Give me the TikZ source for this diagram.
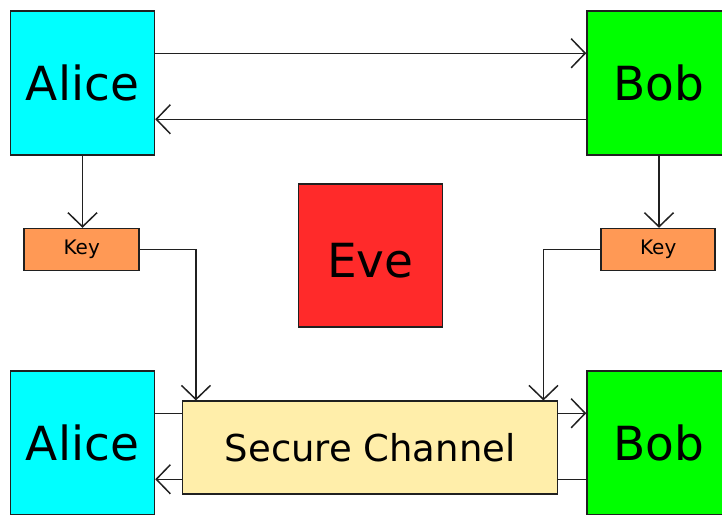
\documentclass[tikz,border=0pt]{standalone}
\usepackage{fontspec}
\setmainfont{DejaVu Sans}
\usetikzlibrary{arrows.meta,calc}

\definecolor{alicecol}{HTML}{00FFFF}
\definecolor{bobcol}{HTML}{00FF00}
\definecolor{evecol}{HTML}{FF2A2A}
\definecolor{keycol}{HTML}{FF9955}
\definecolor{chancol}{HTML}{FFEEAA}
\definecolor{linecol}{HTML}{202020}

\tikzset{
  party/.style={draw=linecol, line width=1.5pt, inner sep=0pt,
    minimum width=144pt, minimum height=144pt,
    font=\fontsize{47}{56}\selectfont},
  keybox/.style={draw=linecol, line width=1.5pt, fill=keycol, inner sep=0pt,
    minimum width=115pt, minimum height=42pt,
    font=\fontsize{20}{24}\selectfont},
  chanbox/.style={draw=linecol, line width=1.5pt, fill=chancol, inner sep=0pt,
    minimum width=375pt, minimum height=93pt,
    font=\fontsize{37}{44}\selectfont},
  wire/.style={draw=linecol, line width=1.5pt},
  arr/.style={wire, -{Straight Barb[length=14pt,width=29pt]}}
}

\begin{document}
\begin{tikzpicture}[x=1pt,y=-1pt]
  \useasboundingbox (0,0) rectangle (722,514);
  \clip (0,0) rectangle (722,514);

  % the two parties, top row
  \node[party, fill=alicecol] (alice1) at (82.5,83) {Alice};
  \node[party, fill=bobcol]   (bob1)   at (659,83)  {Bob};

  % the eavesdropper (label sits a little below the middle)
  \node[party, fill=evecol, minimum height=143pt,
        text height=44pt, text depth=0pt] (eve) at (370.5,255.7) {Eve};

  % keys
  \node[keybox] (keyL) at (81.7,249.5) {Key};
  \node[keybox, minimum width=114pt] (keyR) at (658.2,249.5) {Key};

  % the two parties, bottom row, with the channel between them
  \node[party, fill=alicecol] (alice2) at (82.5,443) {Alice};
  \node[party, fill=bobcol]   (bob2)   at (659,443)  {Bob};
  \node[chanbox] (sc) at (370.2,447.7) {Secure Channel};

  % direct exchange
  \draw[arr] ($(alice1.north east)+(0,43)$) -- ($(bob1.north west)+(0,43)$);
  \draw[arr] ($(bob1.north west)+(0,109)$) -- ($(alice1.north east)+(0,109)$);

  % key generation
  \draw[arr] (alice1.south) -- (alice1.south |- keyL.north);
  \draw[arr] (bob1.south) -- (bob1.south |- keyR.north);

  % keys into the channel
  \draw[arr] (keyL.east) -| ($(sc.north west)+(14,0)$);
  \draw[arr] (keyR.west) -| ($(sc.north east)+(-15,0)$);

  % exchange through the channel
  \draw[wire] ($(alice2.north east)+(0,43)$) -- ($(sc.west |- alice2.north)+(0,43)$);
  \draw[arr]  ($(sc.east |- bob2.north)+(0,43)$) -- ($(bob2.north west)+(0,43)$);
  \draw[wire] ($(bob2.north west)+(0,109)$) -- ($(sc.east |- bob2.north)+(0,109)$);
  \draw[arr]  ($(sc.west |- alice2.north)+(0,109)$) -- ($(alice2.north east)+(0,109)$);
\end{tikzpicture}
\end{document}
